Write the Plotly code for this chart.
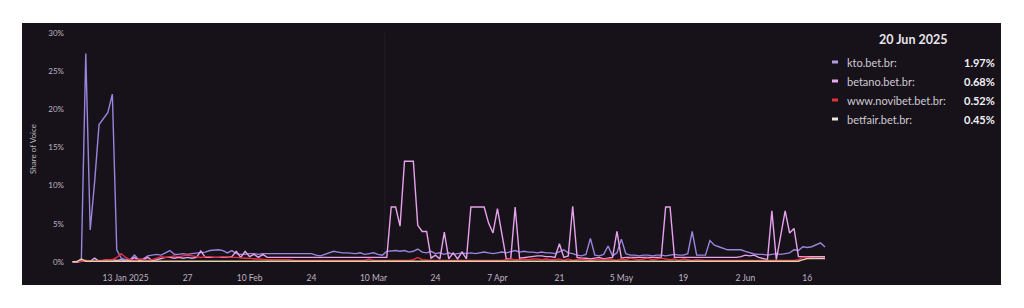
import pandas as pd
import plotly.graph_objects as go

# ---------------- data ----------------
start_date = "2025-01-01"
n_days = 171
dates = pd.date_range(start_date, periods=n_days, freq="D")

kto = [
    0, 0, 0.3, 27.3, 4.2, 10.5, 18.0, 18.8, 19.6, 22.0,
    1.6, 0.5, 0.3, 0.3, 0.9, 0.3, 0.4, 0.8, 0.9, 1.0,
    0.9, 1.2, 1.5, 1.0, 1.0, 1.1, 1.0, 1.1, 1.2, 1.3,
    1.3, 1.5, 1.6, 1.6, 1.5, 1.2, 1.5, 1.1, 1.0, 1.0,
    1.1, 1.1, 1.0, 1.1, 1.1, 1.1, 1.1, 1.1, 1.1, 1.1,
    1.1, 1.1, 1.1, 1.1, 1.1, 0.9, 0.8, 1.0, 1.2, 1.4,
    1.3, 1.2, 1.2, 1.1, 1.1, 1.2, 1.0, 1.1, 1.2, 1.0,
    0.9, 1.4, 1.5, 1.5, 1.4, 1.5, 1.3, 1.4, 1.7, 1.3,
    1.2, 1.4, 1.1, 1.2, 1.0, 1.2, 1.0, 1.1, 1.2, 1.1,
    1.2, 1.1, 1.2, 1.3, 1.2, 1.1, 1.2, 1.3, 1.2, 1.4,
    1.5, 1.3, 1.4, 1.3, 1.3, 1.2, 1.3, 1.2, 1.2, 1.1,
    1.3, 1.6, 1.2, 1.1, 0.9, 0.8, 1.0, 3.1, 0.9, 0.8,
    1.0, 2.1, 0.8, 1.2, 3.0, 1.1, 0.9, 0.9, 0.8, 0.9,
    0.9, 0.8, 0.9, 0.9, 0.8, 0.9, 1.0, 0.9, 0.9, 1.1,
    4.0, 0.9, 0.9, 0.9, 2.8, 2.2, 2.0, 1.8, 1.6, 1.6,
    1.6, 1.6, 1.4, 1.2, 1.05, 1.0, 1.0, 0.9, 1.0, 1.1,
    1.0, 1.1, 1.2, 1.6, 1.5, 2.0, 1.9, 2.0, 2.3, 2.5,
    1.97,
]

betano = [
    0, 0, 0.1, 0.2, 0.1, 0.5, 0.1, 0.2, 0.3, 0.3,
    0.2, 0.3, 0.1, 0.2, 0.6, 0.2, 0.3, 0.6, 0.2, 0.3,
    0.5, 0.6, 0.6, 0.5, 0.6, 0.5, 0.6, 0.5, 0.6, 1.45,
    0.6, 0.6, 0.6, 0.6, 0.6, 0.6, 0.7, 1.4, 0.6, 1.4,
    0.7, 1.0, 0.6, 1.0, 0.6, 0.6, 0.6, 0.6, 0.6, 0.6,
    0.6, 0.6, 0.6, 0.6, 0.6, 0.6, 0.6, 0.6, 0.6, 0.6,
    0.6, 0.6, 0.6, 0.6, 0.6, 0.6, 0.6, 0.6, 0.6, 0.6,
    0.6, 0.6, 7.2, 7.2, 4.7, 13.2, 13.2, 13.2, 4.8, 4.0,
    4.0, 0.5, 0.9, 0.4, 3.9, 0.4, 1.2, 0.4, 1.3, 0.4,
    7.2, 7.2, 7.2, 7.2, 5.1, 3.8, 7.0, 3.7, 0.4, 0.4,
    7.2, 0.5, 0.6, 0.7, 0.8, 0.8, 0.8, 0.7, 0.7, 0.6,
    2.4, 0.6, 0.8, 7.3, 0.6, 0.5, 0.5, 0.4, 0.5, 0.6,
    0.4, 0.5, 0.6, 4.0, 0.5, 0.6, 0.6, 0.6, 0.6, 0.6,
    0.6, 0.6, 0.6, 0.6, 7.2, 7.2, 0.6, 0.6, 0.6, 0.6,
    0.6, 0.6, 0.6, 0.6, 0.6, 0.6, 0.6, 0.6, 0.6, 0.6,
    0.6, 0.7, 0.9, 0.8, 0.9, 0.6, 0.4, 0.3, 6.7, 0.3,
    3.5, 6.7, 3.8, 4.4, 0.7, 0.7, 0.7, 0.7, 0.7, 0.7,
    0.68,
]

novibet = [
    0.05, 0.05, 0.1, 0.2, 0.1, 0.1, 0.2, 0.2, 0.3, 0.3,
    0.6, 1.1, 0.6, 0.3, 0.2, 0.4, 0.3, 0.2, 0.3, 0.5,
    0.7, 0.6, 0.7, 0.8, 0.7, 0.8, 0.9, 0.8, 0.7, 0.6,
    0.7, 0.7, 0.6, 0.6, 0.7, 0.6, 0.6, 0.6, 0.5, 0.5,
    0.5, 0.4, 0.4, 0.3, 0.3, 0.3, 0.3, 0.3, 0.3, 0.3,
    0.2, 0.2, 0.2, 0.2, 0.2, 0.2, 0.2, 0.2, 0.2, 0.2,
    0.2, 0.2, 0.2, 0.2, 0.2, 0.2, 0.2, 0.4, 0.2, 0.2,
    0.2, 0.2, 0.2, 0.2, 0.2, 0.2, 0.2, 0.3, 0.6, 0.3,
    0.2, 0.2, 0.2, 0.2, 0.2, 0.2, 0.2, 0.2, 0.2, 0.2,
    0.2, 0.2, 0.2, 0.2, 0.2, 0.2, 0.2, 0.2, 0.3, 0.4,
    0.3, 0.3, 0.4, 0.3, 0.4, 0.4, 0.3, 0.4, 0.3, 0.3,
    0.4, 0.2, 0.4, 0.2, 0.3, 0.4, 0.3, 0.2, 0.3, 0.4,
    0.3, 0.4, 0.3, 0.2, 0.4, 0.3, 0.5, 0.4, 0.3, 0.4,
    0.5, 0.3, 0.4, 0.5, 0.4, 0.3, 0.4, 0.2, 0.4, 0.3,
    0.2, 0.3, 0.2, 0.2, 0.2, 0.2, 0.2, 0.2, 0.2, 0.2,
    0.2, 0.2, 0.2, 0.2, 0.2, 0.2, 0.2, 0.2, 0.2, 0.2,
    0.2, 0.2, 0.2, 0.2, 0.3, 0.6, 0.6, 0.5, 0.5, 0.5,
    0.52,
]

betfair = [
    0.05, 0.05, 0.4, 0.1, 0.1, 0.1, 0.1, 0.1, 0.1, 0.1,
    0.1, 0.1, 0.1, 0.1, 0.1, 0.1, 0.1, 0.1, 0.1, 0.1,
    0.1, 0.1, 0.1, 0.1, 0.1, 0.1, 0.1, 0.1, 0.1, 0.1,
    0.1, 0.1, 0.1, 0.1, 0.1, 0.1, 0.1, 0.1, 0.1, 0.1,
    0.1, 0.1, 0.1, 0.1, 0.1, 0.1, 0.1, 0.1, 0.1, 0.1,
    0.1, 0.1, 0.1, 0.1, 0.1, 0.1, 0.1, 0.1, 0.1, 0.1,
    0.1, 0.1, 0.1, 0.1, 0.1, 0.1, 0.1, 0.1, 0.1, 0.1,
    0.1, 0.1, 0.1, 0.1, 0.1, 0.1, 0.1, 0.1, 0.1, 0.1,
    0.1, 0.1, 0.1, 0.1, 0.1, 0.1, 0.1, 0.1, 0.1, 0.1,
    0.1, 0.1, 0.1, 0.1, 0.1, 0.1, 0.1, 0.1, 0.1, 0.1,
    0.1, 0.1, 0.1, 0.1, 0.1, 0.1, 0.1, 0.1, 0.1, 0.1,
    0.1, 0.1, 0.1, 0.1, 0.1, 0.1, 0.1, 0.1, 0.1, 0.1,
    0.1, 0.1, 0.1, 0.1, 0.1, 0.1, 0.1, 0.1, 0.1, 0.1,
    0.1, 0.1, 0.1, 0.1, 0.1, 0.1, 0.1, 0.1, 0.1, 0.1,
    0.1, 0.1, 0.1, 0.1, 0.1, 0.1, 0.1, 0.1, 0.1, 0.1,
    0.1, 0.1, 0.1, 0.1, 0.1, 0.1, 0.1, 0.1, 0.1, 0.1,
    0.1, 0.1, 0.1, 0.1, 0.1, 0.3, 0.45, 0.45, 0.45, 0.45,
    0.45,
]

series_names = ["kto.bet.br:", "betano.bet.br:", "www.novibet.bet.br:", "betfair.bet.br:"]
series_values = [kto, betano, novibet, betfair]
legend_values = ["1.97%", "0.68%", "0.52%", "0.45%"]
legend_title = "20 Jun 2025"

tick_dates = ["2025-01-13", "2025-01-27", "2025-02-10", "2025-02-24", "2025-03-10",
              "2025-03-24", "2025-04-07", "2025-04-21", "2025-05-05", "2025-05-19",
              "2025-06-02", "2025-06-16"]
tick_labels = ["13 Jan 2025", "27", "10 Feb", "24", "10 Mar", "24", "7 Apr", "21",
               "5 May", "19", "2 Jun", "16"]
y_ticks = [0, 5, 10, 15, 20, 25, 30]
y_tick_labels = ["0%", "5%", "10%", "15%", "20%", "25%", "30%"]
event_dates = ["2025-03-12T14:00"]

# ---------------- style ----------------
line_colors = ["#9a84dc", "#e6a2ec", "#e0323e", "#e4cfa6"]
marker_colors = ["#b49ae0", "#eaa8ee", "#e0323e", "#ece6e0"]
bg = "#17121a"
font_family = "Lato, 'Noto Sans', sans-serif"

W, H = 1024, 308
L, R, T, B = 65, 830, 33, 265  # plot area pixel bounds
px_per_day = (825 - 72.5) / 170.0
x0 = pd.Timestamp(start_date)
x_lo = x0 + pd.Timedelta(days=-(72.5 - L) / px_per_day)
x_hi = x0 + pd.Timedelta(days=(R - 72.5) / px_per_day)
y_hi = 30.0
y_lo = -(B - 262) / ((262 - T) / y_hi)


def pxx(px):
    return (px - L) / (R - L)


def pxy(py):
    return (B - py) / (B - T)


fig = go.Figure()
for name, vals, col in zip(series_names, series_values, line_colors):
    fig.add_trace(go.Scatter(
        x=dates, y=vals, mode="lines", name=name.rstrip(":"),
        line=dict(color=col, width=1.4), showlegend=False,
    ))

shapes = [
    dict(type="rect", xref="paper", yref="paper", layer="below",
         x0=pxx(22), x1=pxx(1001), y0=pxy(285), y1=pxy(23),
         fillcolor=bg, line=dict(width=0)),
]
for d in event_dates:
    shapes.append(dict(type="line", xref="x", yref="paper", layer="below",
                       x0=d, x1=d, y0=0, y1=1,
                       line=dict(color="rgba(255,255,255,0.05)", width=1)))

annotations = [
    dict(text="<b>%s</b>" % legend_title, xref="paper", yref="paper",
         x=pxx(913), y=pxy(40), xanchor="center", yanchor="middle", showarrow=False,
         font=dict(size=12.5, color="#e8e4ea", family=font_family)),
]
row_y = [62, 81, 100, 119]
for name, val, mc, ry in zip(series_names, legend_values, marker_colors, row_y):
    shapes.append(dict(type="rect", xref="paper", yref="paper", layer="above",
                       x0=pxx(832), x1=pxx(838), y0=pxy(ry + 1.5), y1=pxy(ry - 1.5),
                       fillcolor=mc, line=dict(width=0)))
    annotations.append(dict(text=name, xref="paper", yref="paper",
                            x=pxx(845), y=pxy(ry), xanchor="left", yanchor="middle",
                            showarrow=False,
                            font=dict(size=11, color="#cfc9d3", family=font_family)))
    annotations.append(dict(text="<b>%s</b>" % val, xref="paper", yref="paper",
                            x=pxx(997), y=pxy(ry), xanchor="right", yanchor="middle",
                            showarrow=False,
                            font=dict(size=11, color="#f2f0f4", family=font_family)))

fig.update_layout(
    width=W, height=H,
    margin=dict(l=L, r=W - R, t=T, b=H - B, pad=0),
    paper_bgcolor="white",
    plot_bgcolor="rgba(0,0,0,0)",
    font=dict(family=font_family, color="#bdb6c0", size=8),
    shapes=shapes,
    annotations=annotations,
    hovermode=False,
    xaxis=dict(
        type="date", range=[x_lo, x_hi], tickmode="array",
        tickvals=tick_dates, ticktext=tick_labels,
        showgrid=False, zeroline=False, showline=False,
        ticks="outside", ticklen=5, tickcolor="rgba(0,0,0,0)",
        tickfont=dict(size=8.5, color="#bdb6c0"),
    ),
    yaxis=dict(
        range=[y_lo, y_hi], tickmode="array", tickvals=y_ticks,
        ticktext=y_tick_labels, showgrid=False, zeroline=False, showline=False,
        ticks="", tickfont=dict(size=8, color="#bdb6c0"),
        title=dict(text="Share of Voice", font=dict(size=8, color="#bdb6c0"), standoff=10),
    ),
)

fig.write_html("out.html")
